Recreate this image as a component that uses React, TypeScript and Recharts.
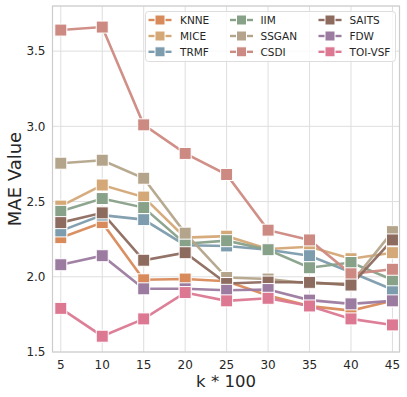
import React from 'react';
import { LineChart, Line, XAxis, YAxis, CartesianGrid, ReferenceArea } from 'recharts';

const kValues = [5, 10, 15, 20, 25, 30, 35, 40, 45];
const xTicks = [5, 10, 15, 20, 25, 30, 35, 40, 45];
const yTicks = [1.5, 2.0, 2.5, 3.0, 3.5];

const KNNE = [2.26, 2.36, 1.98, 1.985, 1.97, 1.875, 1.805, 1.775, 1.84];
const MICE = [2.47, 2.61, 2.53, 2.26, 2.27, 2.185, 2.2, 2.12, 2.16];
const TRMF = [2.305, 2.41, 2.38, 2.21, 2.205, 2.18, 2.14, 2.03, 1.915];
const IIM = [2.435, 2.52, 2.46, 2.22, 2.24, 2.18, 2.06, 2.095, 1.98];
const SSGAN = [2.755, 2.775, 2.655, 2.29, 1.995, 1.985, 1.955, 1.955, 2.3];
const CSDI = [3.64, 3.66, 3.01, 2.82, 2.68, 2.31, 2.245, 2.02, 2.05];
const SAITS = [2.36, 2.425, 2.11, 2.16, 1.955, 1.965, 1.963, 1.945, 2.245];
const FDW = [2.08, 2.14, 1.92, 1.92, 1.91, 1.915, 1.845, 1.82, 1.84];
const TOIVSF = [1.79, 1.605, 1.72, 1.895, 1.84, 1.857, 1.806, 1.72, 1.68];

const seriesNames = ['KNNE', 'MICE', 'TRMF', 'IIM', 'SSGAN', 'CSDI', 'SAITS', 'FDW', 'TOI-VSF'];
const seriesValues = [KNNE, MICE, TRMF, IIM, SSGAN, CSDI, SAITS, FDW, TOIVSF];
const seriesColors = ['#d98a5b', '#d4a877', '#7d9cad', '#88a189', '#b4a48b', '#cd8a82', '#8d6b5f', '#9c7ba0', '#dc7892'];

const data = kValues.map((k, i) => {
  const row: Record<string, number> = { k };
  seriesNames.forEach((n, j) => {
    row[n] = seriesValues[j][i];
  });
  return row;
});

const FONT = '"DejaVu Sans", sans-serif';

const SquareDot = (color: string) => (props: any) => {
  const { cx, cy, index } = props;
  if (cx == null || cy == null) return null;
  const s = 12;
  return <rect key={index} x={cx - s / 2} y={cy - s / 2} width={s} height={s} fill={color} stroke="#ffffff" strokeWidth={1} />;
};

const YLabel = (props: any) => {
  const vb = props.viewBox || { y: 6, height: 346 };
  const x = 21;
  const y = vb.y + vb.height / 2;
  return (
    <text x={x} y={y} transform={`rotate(-90 ${x} ${y})`} textAnchor="middle" fontSize={18} fill="#262626" fontFamily={FONT}>
      MAE Value
    </text>
  );
};

const XLabel = (props: any) => {
  const vb = props.viewBox || { x: 52, width: 347 };
  const x = vb.x + vb.width / 2;
  return (
    <text x={x} y={386.5} textAnchor="middle" fontSize={16.5} fill="#262626" fontFamily={FONT}>
      k * 100
    </text>
  );
};

const legendCols = [
  { markerX: 160, textX: 180 },
  { markerX: 241.5, textX: 260.5 },
  { markerX: 330, textX: 349.5 },
];
const legendRows = [20, 36, 51.8];

export default function App() {
  return (
    <div style={{ position: 'absolute', left: 0, top: 0, width: 407, height: 397, background: '#fff' }}>
      <LineChart width={407} height={397} data={data} margin={{ top: 6, right: 7.5, left: 0, bottom: 0 }}>
        <CartesianGrid stroke="#dedede" strokeWidth={1} />
        <XAxis
          dataKey="k"
          type="number"
          domain={[4, 45.85]}
          ticks={xTicks}
          allowDataOverflow
          tickLine={false}
          axisLine={false}
          tickSize={0}
          tickMargin={8}
          height={45}
          interval={0}
          tick={{ fontSize: 12, fill: '#262626', fontFamily: FONT }}
          label={<XLabel />}
        />
        <YAxis
          type="number"
          domain={[1.5, 3.8]}
          ticks={yTicks}
          allowDataOverflow
          tickLine={false}
          axisLine={false}
          tickSize={0}
          tickMargin={7}
          width={52.5}
          interval={0}
          tickFormatter={(v: number) => v.toFixed(1)}
          tick={{ fontSize: 12, fill: '#262626', fontFamily: FONT }}
          label={<YLabel />}
        />
        <ReferenceArea x1={4} x2={45.85} y1={1.5} y2={3.8} fill="none" stroke="#cccccc" strokeWidth={1.2} ifOverflow="extendDomain" />
        {seriesNames.map((n, j) => (
          <Line
            key={n}
            dataKey={n}
            type="linear"
            stroke={seriesColors[j]}
            strokeWidth={2.6}
            strokeOpacity={0.95}
            dot={SquareDot(seriesColors[j])}
            activeDot={false}
            isAnimationActive={false}
          />
        ))}
      </LineChart>
      <svg style={{ position: 'absolute', left: 0, top: 0 }} width={407} height={397}>
        <rect x={145.5} y={11.5} width={250} height={50} rx={3} fill="#ffffff" fillOpacity={0.8} stroke="#dddddd" strokeWidth={1} />
        {seriesNames.map((n, j) => {
          const col = legendCols[Math.floor(j / 3)];
          const y = legendRows[j % 3];
          return (
            <g key={n}>
              <line x1={col.markerX - 11.5} x2={col.markerX + 11.5} y1={y} y2={y} stroke={seriesColors[j]} strokeWidth={2.4} />
              <rect x={col.markerX - 5} y={y - 5} width={10} height={10} fill={seriesColors[j]} stroke="#ffffff" strokeWidth={1} />
              <text x={col.textX} y={y} dy="0.36em" fontSize={10.5} fill="#262626" fontFamily={FONT}>
                {n}
              </text>
            </g>
          );
        })}
      </svg>
    </div>
  );
}
